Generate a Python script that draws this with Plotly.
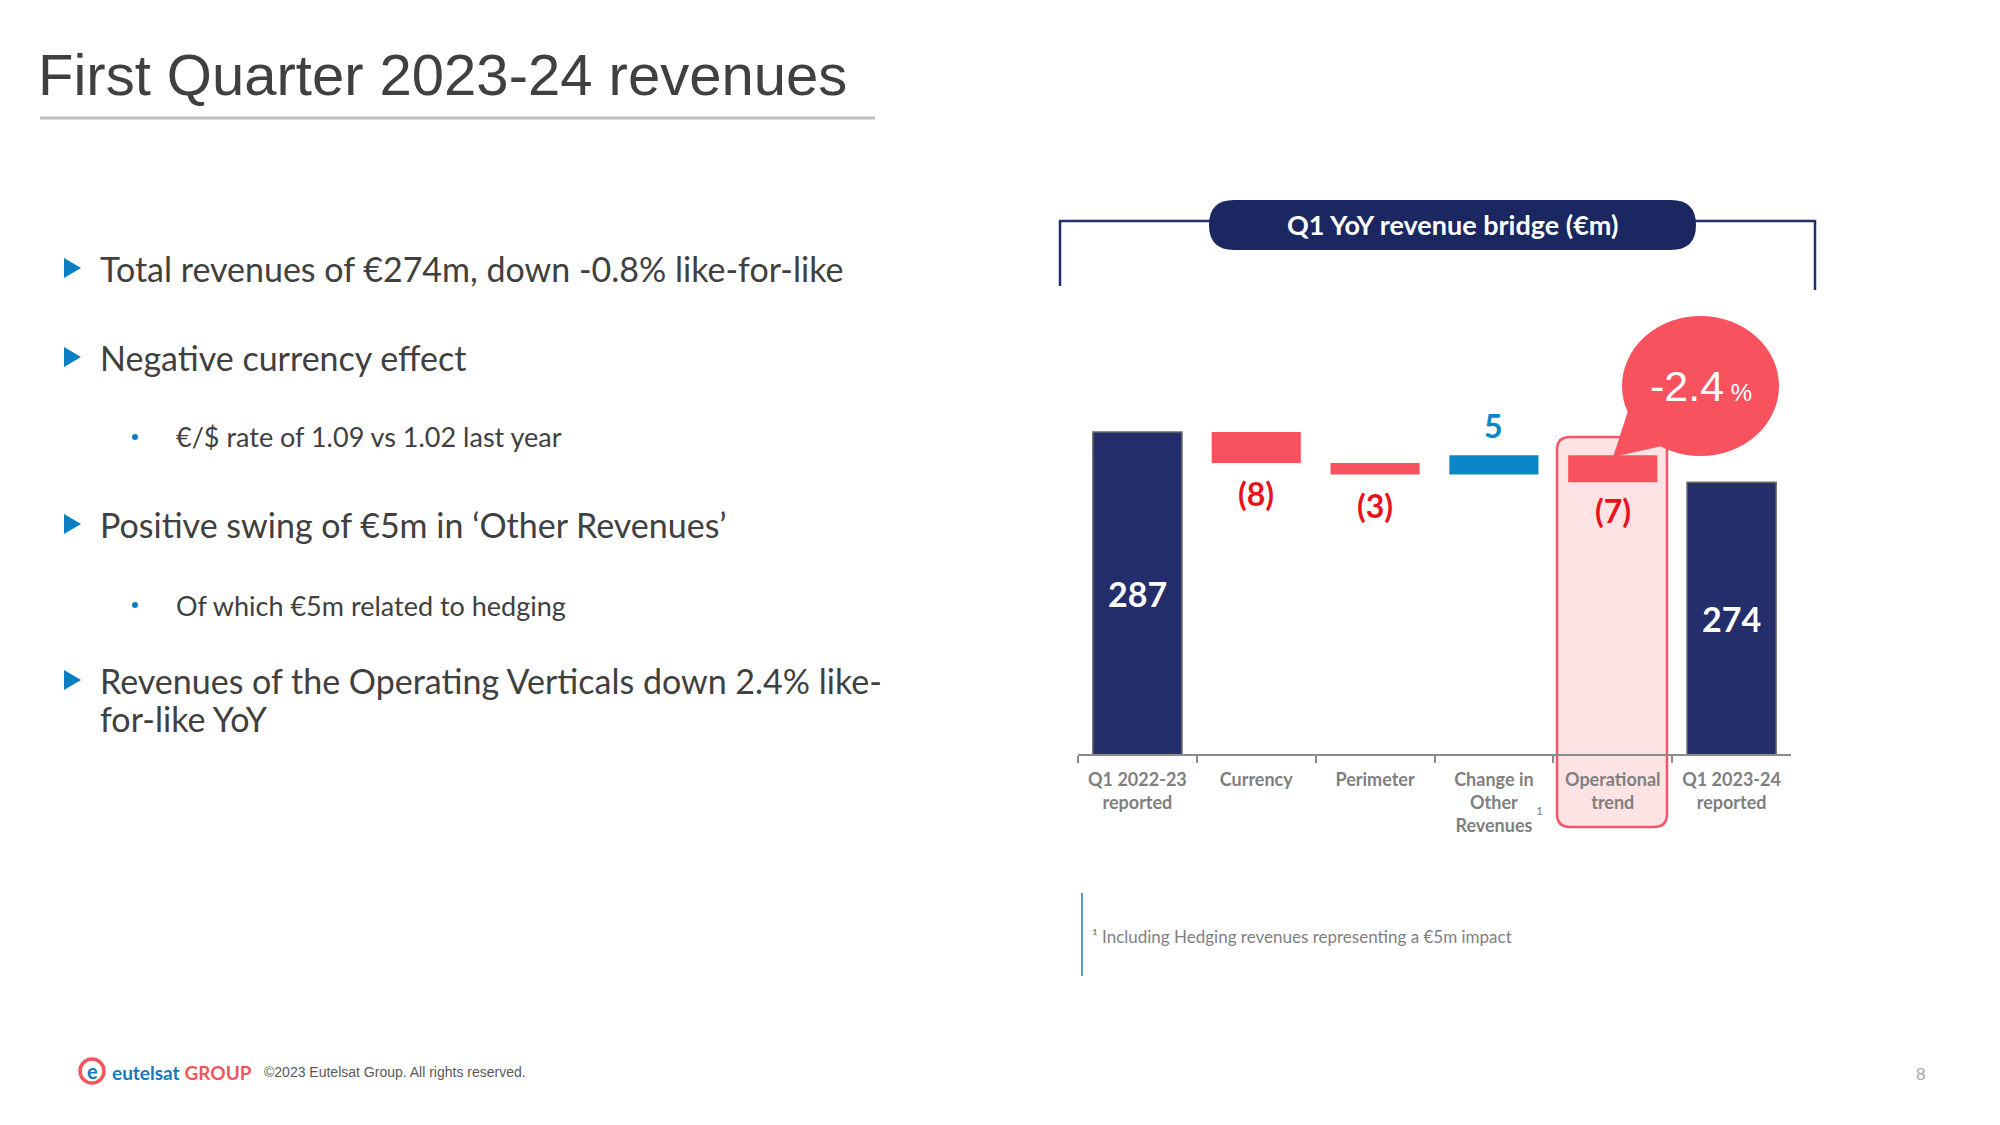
import plotly.graph_objects as go

W, H = 2000, 1125

# ---- chart data -------------------------------------------------------------
CATEGORIES = [
    "Q1 2022-23<br>reported",
    "Currency",
    "Perimeter",
    "Change in<br>Other<br>Revenues",
    "Operational<br>trend",
    "Q1 2023-24<br>reported",
]
VALUES = [287, -8, -3, 5, -7, 0]
MEASURES = ["absolute", "relative", "relative", "relative", "relative", "total"]
BUBBLE_PCT = "-2.4"

BULLETS = [
    "Total revenues of €274m, down -0.8% like-for-like",
    "Negative currency effect",
    "Positive swing of €5m in ‘Other Revenues’",
    "Revenues of the Operating Verticals down 2.4% like-<br>for-like YoY",
]
SUB_BULLETS = [
    "€/$ rate of 1.09 vs 1.02 last year",
    "Of which €5m related to hedging",
]

NAVY = "#232e6b"
RED_BAR = "#f9525f"
BLUE = "#0a87c7"
LABEL_RED = "#e8121f"
GREY = "#7f7f7f"
TEXT = "#404040"

Y_MIN, Y_MAX = 203.4, 321.3


def px(x):
    return x / W


def py(y):
    return 1 - y / H


def pt(x, y):
    return f"{px(x):.5f},{py(y):.5f}"


def polyline(points, close=True):
    s = "M" + pt(*points[0]) + "".join(" L" + pt(*p) for p in points[1:])
    return s + (" Z" if close else "")


def rounded_rect(x0, y0, x1, y1, r):
    return (
        f"M{pt(x0 + r, y0)} L{pt(x1 - r, y0)} Q{pt(x1, y0)} {pt(x1, y0 + r)} "
        f"L{pt(x1, y1 - r)} Q{pt(x1, y1)} {pt(x1 - r, y1)} "
        f"L{pt(x0 + r, y1)} Q{pt(x0, y1)} {pt(x0, y1 - r)} "
        f"L{pt(x0, y0 + r)} Q{pt(x0, y0)} {pt(x0 + r, y0)} Z"
    )


def note(x, y, text, size, color, family="Lato", xanchor="left", **kw):
    return dict(x=px(x), y=py(y), xref="paper", yref="paper", xanchor=xanchor,
                yanchor="middle", align="left", text=text, showarrow=False,
                font=dict(family=family, size=size, color=color), **kw)


fig = go.Figure()

fig.add_trace(go.Waterfall(
    x=CATEGORIES, y=VALUES, measure=MEASURES,
    width=0.75,
    connector=dict(visible=False),
    totals=dict(marker=dict(color=NAVY, line=dict(color="#6b6b6b", width=1.5))),
    decreasing=dict(marker=dict(color=RED_BAR)),
    increasing=dict(marker=dict(color=BLUE)),
    textinfo="none",
    hoverinfo="skip",
))

annotations = []

# value labels computed from the data
running = 0
for cat, val, meas in zip(CATEGORIES, VALUES, MEASURES):
    if meas in ("absolute", "total"):
        if meas == "absolute":
            running = val
        annotations.append(dict(x=cat, y=(Y_MIN + running) / 2, text=f"<b>{running}</b>",
                                showarrow=False, xanchor="center", yanchor="middle",
                                font=dict(family="Lato", size=34, color="white")))
    else:
        start = running
        running += val
        if val < 0:
            annotations.append(dict(x=cat, y=min(start, running), yshift=-31 if val != -7 else -28,
                                    text=f"<b>({abs(val)})</b>", showarrow=False,
                                    xanchor="center", yanchor="middle",
                                    font=dict(family="Lato", size=32, color=LABEL_RED)))
        else:
            annotations.append(dict(x=cat, y=max(start, running), yshift=30,
                                    text=f"<b>{val}</b>", showarrow=False,
                                    xanchor="center", yanchor="middle",
                                    font=dict(family="Lato", size=32, color=BLUE)))

# footnote marker next to "Other"
annotations.append(dict(x=CATEGORIES[3], xshift=46, y=py(810), yref="paper", text="1",
                        xanchor="center", yanchor="middle",
                        showarrow=False, font=dict(family="Lato", size=12, color=GREY)))

# slide title
annotations.append(note(36, 74, "First Quarter 2023-24 revenues", 58, TEXT,
                        family="Liberation Sans"))

# bullets (multi-line bullets are laid out one line at a time)
bullet_y = [268, 357, 524, 680]
for txt, y in zip(BULLETS, bullet_y):
    for i, line in enumerate(txt.split("<br>")):
        annotations.append(note(98, y + 38 * i, line, 34, TEXT))
sub_y = [437, 605]
for txt, y in zip(SUB_BULLETS, sub_y):
    annotations.append(note(174, y, txt, 27, TEXT))

# chart header pill
annotations.append(note(1452, 225, "<b>Q1 YoY revenue bridge (€m)</b>", 27, "white",
                        xanchor="center"))

# bubble text
annotations.append(note(1701, 386,
                        f"{BUBBLE_PCT}<span style='font-size:24px'> %</span>",
                        43, "white", family="Liberation Sans", xanchor="center"))

# footnote
annotations.append(note(1090, 936, "¹ Including Hedging revenues representing a €5m impact",
                        17, GREY))

# footer
annotations.append(note(92, 1071, "<b>e</b>", 20, "#1479bd", xanchor="center"))
annotations.append(note(110, 1072,
                        "<b>eutelsat</b> <b><span style='color:#f0575c'>GROUP</span></b>",
                        19, "#1479bd"))
annotations.append(note(262, 1072, "©2023 Eutelsat Group. All rights reserved.", 14,
                        "#595959", family="Liberation Sans"))
annotations.append(note(1920, 1074, "8", 17, "#a6a6a6", family="Liberation Sans",
                        xanchor="center"))

shapes = []
# title underline
shapes.append(dict(type="line", xref="paper", yref="paper", x0=px(40), x1=px(875),
                   y0=py(118), y1=py(118), line=dict(color="#c0c0c0", width=3)))
# bullet triangles
for y in bullet_y:
    shapes.append(dict(type="path", xref="paper", yref="paper",
                       path=polyline([(64, y - 10), (81, y), (64, y + 10)]),
                       fillcolor="#0a7fc2", line=dict(width=0)))
for y in sub_y:
    shapes.append(dict(type="circle", xref="paper", yref="paper", x0=px(132), x1=px(138),
                       y0=py(y - 3), y1=py(y + 3), fillcolor="#0a7fc2", line=dict(width=0)))

# operational trend highlight
shapes.append(dict(type="path", xref="paper", yref="paper", layer="below",
                   path=rounded_rect(1557, 437, 1667, 827, 13),
                   fillcolor="#fde3e4", line=dict(color="#f25468", width=2.5)))

# header bracket + pill
shapes.append(dict(type="path", xref="paper", yref="paper",
                   path=polyline([(1060, 286), (1060, 221), (1240, 221)], close=False),
                   line=dict(color=NAVY, width=2.5)))
shapes.append(dict(type="path", xref="paper", yref="paper",
                   path=polyline([(1670, 221), (1815, 221), (1815, 290)], close=False),
                   line=dict(color=NAVY, width=2.5)))
shapes.append(dict(type="path", xref="paper", yref="paper",
                   path=rounded_rect(1209, 200, 1696, 250, 25),
                   fillcolor="#1b2761", line=dict(width=0)))

# speech bubble
shapes.append(dict(type="circle", xref="paper", yref="paper",
                   x0=px(1622), x1=px(1779), y0=py(316), y1=py(456),
                   fillcolor=RED_BAR, line=dict(width=0)))
shapes.append(dict(type="path", xref="paper", yref="paper",
                   path=polyline([(1613, 457), (1630, 405), (1662, 446)]),
                   fillcolor=RED_BAR, line=dict(width=0)))

# footnote rule
shapes.append(dict(type="line", xref="paper", yref="paper", x0=px(1082), x1=px(1082),
                   y0=py(893), y1=py(976), line=dict(color="#1f7bb0", width=1.5)))

# logo ring
shapes.append(dict(type="circle", xref="paper", yref="paper", x0=px(80), x1=px(104),
                   y0=py(1059), y1=py(1083), line=dict(color="#f0575c", width=3.5)))

fig.update_layout(
    width=W, height=H,
    margin=dict(l=0, r=0, t=0, b=0),
    paper_bgcolor="white",
    plot_bgcolor="rgba(0,0,0,0)",
    showlegend=False,
    xaxis=dict(
        domain=[px(1078), px(1791)],
        range=[-0.5, 5.5],
        showline=True, linecolor="#8c8c8c", linewidth=2,
        ticks="outside", tickson="boundaries", ticklen=7, tickcolor="#8c8c8c", tickwidth=2,
        ticklabelstandoff=8,
        showgrid=False, zeroline=False, fixedrange=True,
        tickfont=dict(family="Lato", size=18, color=GREY, weight="bold"),
    ),
    yaxis=dict(
        domain=[py(754), py(300)],
        range=[Y_MIN, Y_MAX],
        visible=False, fixedrange=True,
    ),
    annotations=annotations,
    shapes=shapes,
)

fig.write_html("out.html", config={"displayModeBar": False},
               post_script="document.body.style.margin='0px';")
